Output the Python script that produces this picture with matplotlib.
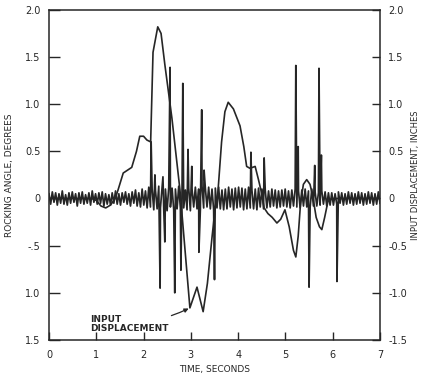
"""Rocking angle and input displacement against time, redrawn from a scanned figure."""

import numpy as np
import matplotlib

matplotlib.use("Agg")
import matplotlib.pyplot as plt

plt.rcParams["font.family"] = ["Liberation Sans Narrow", "DejaVu Sans"]

# input displacement (smooth curve), time in s, value in inches
disp_t = [0.0, 0.9, 1.0, 1.1, 1.2, 1.3, 1.4, 1.46, 1.57, 1.75, 1.85, 1.92, 2.0,
          2.07, 2.15, 2.2, 2.3, 2.37, 2.45, 2.6, 2.77, 2.98, 3.13, 3.26, 3.35,
          3.45, 3.51, 3.57, 3.65, 3.72, 3.79, 3.9, 4.04, 4.12, 4.18, 4.25, 4.36,
          4.43, 4.5, 4.55, 4.63, 4.72, 4.82, 4.9, 4.99, 5.08, 5.17, 5.22, 5.27,
          5.32, 5.38, 5.45, 5.52, 5.58, 5.65, 5.72, 5.77, 5.83, 5.9, 6.0, 7.0]
disp_v = [0.0, 0.0, -0.02, -0.08, -0.1, -0.07, 0.0, 0.09, 0.27, 0.33, 0.5, 0.66, 0.66,
          0.62, 0.6, 1.55, 1.82, 1.75, 1.42, 0.85, 0.09, -1.16, -0.94, -1.2, -0.9,
          -0.4, -0.12, 0.05, 0.6, 0.92, 1.02, 0.95, 0.77, 0.55, 0.34, 0.32, 0.34,
          0.2, 0.05, -0.1, -0.16, -0.2, -0.26, -0.22, -0.12, -0.3, -0.55, -0.62, -0.4,
          -0.05, 0.15, 0.2, 0.15, 0.02, -0.2, -0.3, -0.33, -0.2, -0.03, 0.0, 0.0]

# rocking angle: small oscillation, degrees
rock_noise = [
    0.05, -0.06, 0.07, -0.04, 0.06, -0.07, 0.05, -0.05, 0.08, -0.06,
    0.04, -0.07, 0.06, -0.05, 0.07, -0.04, 0.05, -0.08, 0.06, -0.05,
    0.07, -0.06, 0.04, -0.05, 0.06, -0.07, 0.08, -0.04, 0.05, -0.06,
    0.06, -0.05, 0.07, -0.08, 0.05, -0.06, 0.04, -0.07, 0.06, -0.05,
    0.08, -0.06, 0.05, -0.07, 0.06, -0.04, 0.07, -0.06, 0.05, -0.08,
    0.07, -0.05, 0.09, -0.08, 0.06, -0.09, 0.10, -0.07, 0.08, -0.10,
    0.12, -0.09, 0.10, -0.12, 0.09, -0.11, 0.13, -0.10, 0.11, -0.12,
    0.10, -0.13, 0.12, -0.09, 0.11, -0.12, 0.10, -0.11, 0.13, -0.10,
    0.12, -0.10, 0.09, -0.12, 0.11, -0.13, 0.10, -0.09, 0.12, -0.11,
    0.10, -0.12, 0.13, -0.10, 0.11, -0.09, 0.12, -0.11, 0.10, -0.12,
    0.11, -0.10, 0.12, -0.11, 0.09, -0.12, 0.10, -0.11, 0.12, -0.09,
    0.10, -0.12, 0.11, -0.10, 0.12, -0.09, 0.11, -0.12, 0.10, -0.11,
    0.12, -0.10, 0.09, -0.11, 0.10, -0.12, 0.11, -0.09, 0.10, -0.11,
    0.09, -0.10, 0.08, -0.09, 0.10, -0.08, 0.09, -0.10, 0.08, -0.09,
    0.09, -0.08, 0.10, -0.09, 0.08, -0.10, 0.09, -0.08, 0.10, -0.09,
    0.08, -0.10, 0.09, -0.08, 0.10, -0.09, 0.08, -0.09, 0.10, -0.08,
    0.07, -0.08, 0.06, -0.07, 0.08, -0.06, 0.07, -0.08, 0.06, -0.07,
    0.06, -0.07, 0.05, -0.06, 0.07, -0.05, 0.06, -0.07, 0.05, -0.06,
    0.07, -0.05, 0.06, -0.07, 0.05, -0.06, 0.07, -0.05, 0.06, -0.07,
    0.05, -0.06, 0.07, -0.05, 0.06, -0.07, 0.05, -0.06, 0.07, -0.05,
]
# rocking angle spikes (time s, peak degrees)
spike_t = [2.16, 2.24, 2.35, 2.41, 2.45, 2.56, 2.66, 2.79, 2.83, 2.94, 3.02,
           3.17, 3.23, 3.28, 3.5, 4.27, 4.55, 5.22, 5.27, 5.5, 5.62, 5.71, 5.76, 6.09]
spike_v = [0.6, 0.25, -0.95, 0.23, -0.46, 1.39, -1.0, -0.76, 1.22, 0.52, 0.34,
           -0.57, 0.94, 0.3, -0.86, 0.49, 0.43, 1.41, 0.55, -0.94, 0.35, 1.38, 0.46, -0.88]

left_ticks = [2.0, 1.5, 1.0, 0.5, 0.0, -0.5, -1.0, -1.5]
left_labels = ["2.0", "1.5", "1.0", "0.5", "0", "-.5", "1.0", "1.5"]
right_labels = ["2.0", "1.5", "1.0", "0.5", "0", "-0.5", "-1.0", "-1.5"]
time_ticks = [0, 1, 2, 3, 4, 5, 6, 7]

INK = "#262626"


def main() -> None:
    grid_t = np.linspace(0.0, 7.0, len(rock_noise))
    rock_t = np.concatenate([grid_t, spike_t])
    rock_v = np.concatenate([rock_noise, spike_v])
    order = np.argsort(rock_t, kind="stable")
    rock_t, rock_v = rock_t[order], rock_v[order]

    fig = plt.figure(figsize=(4.26, 3.79), dpi=100)
    ax = fig.add_axes([0.115, 0.103, 0.777, 0.871])

    ax.plot(rock_t, rock_v, color=INK, lw=1.25)
    ax.plot(disp_t, disp_v, color=INK, lw=1.2)

    ax.set_xlim(0, 7)
    ax.set_ylim(-1.5, 2.0)
    ax.set_xticks(time_ticks)
    ax.set_yticks(left_ticks)
    ax.set_yticklabels(left_labels)
    ax.tick_params(axis="y", direction="in", length=8, width=1.0, pad=6,
                   labelsize=7, colors=INK)
    ax.tick_params(axis="x", direction="in", length=6, width=1.0, pad=7,
                   labelsize=7, colors=INK)
    for spine in ax.spines.values():
        spine.set_color(INK)
        spine.set_linewidth(1.1)

    ax_r = ax.twinx()
    ax_r.set_ylim(-1.5, 2.0)
    ax_r.set_yticks(left_ticks)
    ax_r.set_yticklabels(right_labels)
    ax_r.tick_params(axis="y", direction="in", length=6, width=1.0, pad=6,
                     labelsize=7, colors=INK)
    for spine in ax_r.spines.values():
        spine.set_visible(False)

    ax.set_xlabel("TIME, SECONDS", fontsize=6.5, color=INK, labelpad=4)
    ax.set_ylabel("ROCKING ANGLE, DEGREES", fontsize=6.5, color=INK, labelpad=8)
    ax_r.set_ylabel("INPUT DISPLACEMENT, INCHES", fontsize=6, color=INK,
                    rotation=90, labelpad=3)

    ax.annotate("INPUT\nDISPLACEMENT", xy=(2.98, -1.16), xytext=(0.87, -1.33),
                fontsize=6.5, fontweight="bold", color=INK, ha="left", va="center",
                linespacing=1.1,
                arrowprops=dict(arrowstyle="-|>", color=INK, lw=0.9,
                                mutation_scale=6, shrinkA=0, shrinkB=1,
                                connectionstyle="arc3,rad=0.1"))

    fig.savefig("out.png", dpi=100)


if __name__ == "__main__":
    main()
